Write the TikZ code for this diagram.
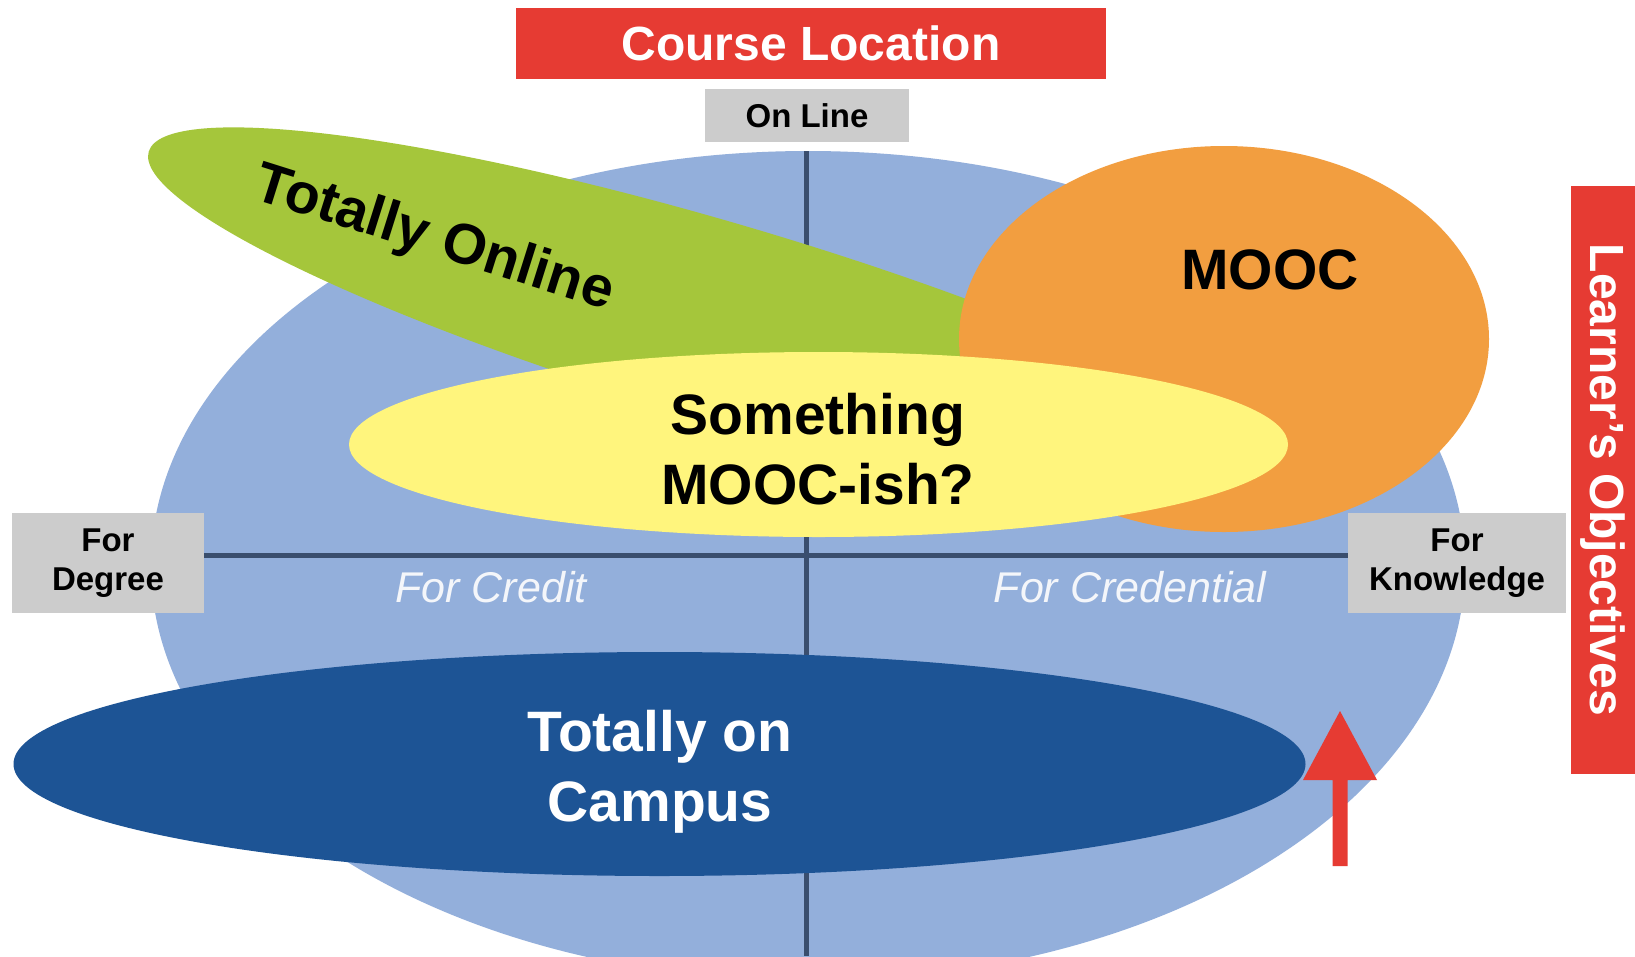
\documentclass[tikz,border=0pt]{standalone}
\usepackage{fontspec}
\setmainfont{Liberation Sans}
\definecolor{bigblue}{HTML}{93AFDB}
\definecolor{axisc}{HTML}{3A4E6E}
\definecolor{greenc}{HTML}{A5C63B}
\definecolor{orangec}{HTML}{F29E40}
\definecolor{yellowc}{HTML}{FFF57D}
\definecolor{darkblue}{HTML}{1D5495}
\definecolor{redc}{HTML}{E63B33}
\definecolor{boxgray}{HTML}{CCCCCC}
\definecolor{softwhite}{HTML}{F4F6FA}
\begin{document}
\begin{tikzpicture}[x=1pt,y=-1pt,
  axis/.style={draw=axisc, line width=5pt},
  graybox/.style={fill=boxgray, inner sep=0pt, align=center, text=black,
    font=\bfseries\fontsize{33}{39}\selectfont},
  redbox/.style={fill=redc, inner sep=0pt, text=white,
    font=\bfseries\fontsize{48}{56}\selectfont},
  bigtext/.style={align=center, inner sep=0pt,
    font=\bfseries\fontsize{57}{70}\selectfont},
  quadtext/.style={inner sep=0pt, text=softwhite,
    font=\itshape\fontsize{43}{50}\selectfont}]
\useasboundingbox (0,0) rectangle (1635,956);
\fill[white] (0,0) rectangle (1635,956);

% large background ellipse
\fill[bigblue] (808,566) ellipse [x radius=657, y radius=415];

% side boxes (define positions for axis)
\coordinate (hline) at (0,555);
\node[graybox, minimum width=192, minimum height=100] (deg) at (108,563) {For\\Degree};
\node[graybox, minimum width=218, minimum height=100] (know) at (1457,563) {For\\Knowledge};
\node[graybox, minimum width=204, minimum height=53] (online) at (807,115.5) {On Line};

% axes
\coordinate (vtop) at (806,151);
\coordinate (vbot) at (806,956);
\draw[axis] (vtop) -- (vbot);
\draw[axis] (deg.east |- hline) -- (know.west |- hline);

% Totally online (green)
\fill[greenc, rotate around={-16.5:(724,322)}] (724,322) ellipse [x radius=600, y radius=98];
% MOOC (orange)
\fill[orangec] (1224,339) ellipse [x radius=265, y radius=193];
% Something MOOC-ish (yellow)
\fill[yellowc] (818.5,444.5) ellipse [x radius=469.5, y radius=92.5];
% Totally on campus (dark blue)
\fill[darkblue] (659.5,764) ellipse [x radius=646, y radius=112];

% texts
\node[bigtext, rotate=-17.5] (tonline) at (434,240) {Totally Online};
\node[bigtext] (mooc) at (1270,270) {MOOC};
\node[bigtext] (mooish) at (818,449) {Something\\MOOC-ish?};
\node[bigtext, text=white] (campus) at (660,772) {Totally on\\Campus};
\node[quadtext] (credit) at (491,587) {For Credit};
\node[quadtext] (credential) at (1130,587) {For Credential};

% red headers
\node[redbox, minimum width=590, minimum height=71] (loc) at (811,43.5) {Course Location};
\node[redbox, rotate=-90, minimum width=588, minimum height=64] (obj) at (1603,480) {Learner's Objectives};

% red arrow
\fill[redc] (1332.5,866) -- (1332.5,780) -- (1303,780) -- (1340,711)
  -- (1377,780) -- (1347.5,780) -- (1347.5,866) -- cycle;
\end{tikzpicture}
\end{document}
